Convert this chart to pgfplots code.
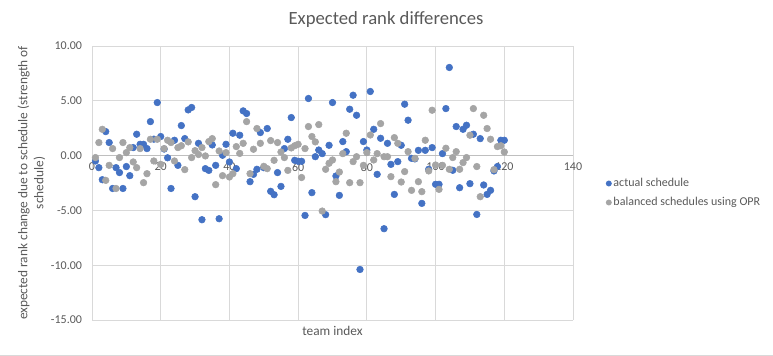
\documentclass[border=0pt]{standalone}
\usepackage{pgfplots}
\pgfplotsset{compat=1.18}
\usepackage{fontspec}
\setmainfont{Carlito}
\definecolor{txt}{HTML}{595959}
\definecolor{gridc}{HTML}{D9D9D9}
\definecolor{axc}{HTML}{BFBFBF}
\definecolor{ser1}{HTML}{4472C4}
\definecolor{ser2}{HTML}{A5A5A5}
\pgfplotstableread{
x y
1 -0.49
2 -1.1
3 -2.2
4 2.19
5 1.19
6 -3.0
7 -1.1
8 -1.55
9 -3.0
10 -1.0
11 -1.83
12 0.73
13 1.95
14 1.03
15 1.03
16 0.64
17 3.1
18 1.5
19 4.84
20 1.74
21 0.6
22 -0.2
23 -3.0
24 1.4
25 -0.89
26 2.74
27 1.55
28 4.17
29 4.39
30 -3.75
31 1.12
32 -5.85
33 -1.19
34 -1.35
35 0.97
36 -0.89
37 -5.76
38 0.03
39 1.03
40 -0.58
41 2.04
42 -1.19
43 1.86
44 4.08
45 3.84
46 -2.38
47 -1.71
48 -1.25
49 2.1
50 -1.1
51 2.47
52 -3.26
53 -3.57
54 -1.55
55 -2.81
56 0.64
57 1.49
58 3.47
59 -0.43
60 -0.52
61 -0.52
62 -5.46
63 5.21
64 -3.38
65 -0.1
66 0.51
67 0.18
68 -5.39
69 0.94
70 4.84
71 -1.86
72 -3.63
73 1.28
74 0.36
75 4.23
76 5.51
77 3.68
78 -10.39
79 1.28
80 0.51
81 5.85
82 2.4
83 -1.71
84 1.58
85 -6.67
86 1.12
87 -0.8
88 -3.54
89 -0.55
90 0.94
91 4.69
92 3.23
93 -0.25
94 -0.3
95 0.48
96 -4.36
97 0.48
98 -1.25
99 0.73
100 -2.62
101 -2.62
102 0.18
103 4.29
104 8.04
105 -1.34
106 2.65
107 -2.93
108 2.4
109 2.77
110 -2.56
111 1.95
112 -5.37
113 1.55
114 -2.68
115 -3.54
116 -3.17
117 -1.4
118 -1.0
119 1.4
120 1.4
}\actual
\pgfplotstableread{
x y
1 -0.18
2 1.19
3 2.4
4 -2.26
5 -0.89
6 0.64
7 -3.0
8 -0.18
9 1.19
10 0.27
11 0.73
12 -0.58
13 -1.1
14 0.64
15 -2.47
16 -1.65
17 1.49
18 -0.49
19 1.49
20 -0.8
21 0.64
22 1.4
23 1.19
24 -0.49
25 0.73
26 0.9
27 -1.28
28 1.25
29 -0.18
30 0.45
31 0.1
32 0.73
33 -0.03
34 1.28
35 1.55
36 -2.65
37 0.42
38 -1.83
39 0.27
40 -1.95
41 -1.65
42 0.82
43 0.2
44 1.12
45 3.1
46 -1.65
47 0.58
48 2.47
49 1.12
50 -0.98
51 -1.19
52 1.37
53 -0.43
54 1.19
55 0.33
56 -0.18
57 -1.35
58 0.7
59 0.9
60 1.03
61 -2.0
62 0.64
63 2.65
64 1.74
65 1.25
66 2.83
67 -5.06
68 -1.25
69 -0.7
70 -0.4
71 -2.38
72 -1.5
73 0.18
74 2.04
75 -2.47
76 -0.55
77 -0.1
78 -2.47
79 -0.89
80 0.27
81 1.88
82 -0.4
83 0.18
84 2.92
85 -0.1
86 -0.1
87 -1.92
88 1.64
89 1.12
90 -2.41
91 -1.46
92 0.36
93 -3.17
94 -0.25
95 -2.38
96 -3.29
97 1.4
98 -1.4
99 4.14
100 -0.86
101 -3.08
102 -0.89
103 0.67
104 -1.25
105 -0.18
106 0.36
107 -1.25
108 -0.64
109 -0.18
110 1.86
111 4.29
112 -1.0
113 -3.75
114 3.68
115 2.47
116 1.49
117 -1.28
118 0.82
119 0.9
120 0.33
}\balanced
\begin{document}
\begin{tikzpicture}
\useasboundingbox (0,0) rectangle (579.75pt,267pt);
\draw[gridc, line width=0.75pt] (0,0.5pt) -- (579.75pt,0.5pt);
\node[text=txt, font=\fontsize{14}{16}\selectfont] at (289.5pt,252pt) {Expected rank differences};
\begin{axis}[
  at={(69pt,27pt)}, anchor=south west,
  scale only axis, width=360.75pt, height=205.5pt,
  xmin=0, xmax=140, ymin=-15, ymax=10,
  xtick={0,20,...,140}, ytick={-15,-10,...,10},
  axis x line=middle, axis y line=left,
  hide obscured x ticks=false, hide obscured y ticks=false,
  x axis line style={-, draw=axc},
  y axis line style={-, draw=gridc},
  major tick length=0pt,
  grid=major, major grid style={draw=gridc, line width=0.6pt},
  tick label style={font=\fontsize{9}{11}\selectfont, text=txt},
  /pgf/number format/assume math mode=true,
  yticklabel style={/pgf/number format/.cd, fixed, fixed zerofill, precision=2, /tikz/.cd, anchor=east, xshift=-4pt},
  xticklabel style={anchor=north, yshift=-2pt},
  xlabel={team index},
  ylabel={expected rank change due to schedule (strength of\\schedule)},
  every axis x label/.style={at={(axis description cs:0.5,0)}, anchor=north, yshift=-1pt, font=\fontsize{10}{12}\selectfont, text=txt},
  every axis y label/.style={at={(axis description cs:-0.1258,0.5)}, rotate=90, anchor=center, align=center, font=\fontsize{10}{12}\selectfont, text=txt},
  legend style={at={(axis description cs:1.06,0.4635)}, anchor=west, draw=none, fill=none, font=\fontsize{9}{11}\selectfont, text=txt, row sep=3.5pt, nodes={inner sep=1.5pt}},
  legend cell align=left,
  legend image code/.code={\draw[#1, mark size=2pt] plot coordinates {(0.1cm,0cm)};},
  clip=false,
]
\addplot[only marks, mark=*, mark size=2.5pt, color=ser1] table {\actual};
\addlegendentry{actual schedule}
\addplot[only marks, mark=*, mark size=2.5pt, color=ser2] table {\balanced};
\addlegendentry{balanced schedules using OPR}
\end{axis}
\end{tikzpicture}
\end{document}
